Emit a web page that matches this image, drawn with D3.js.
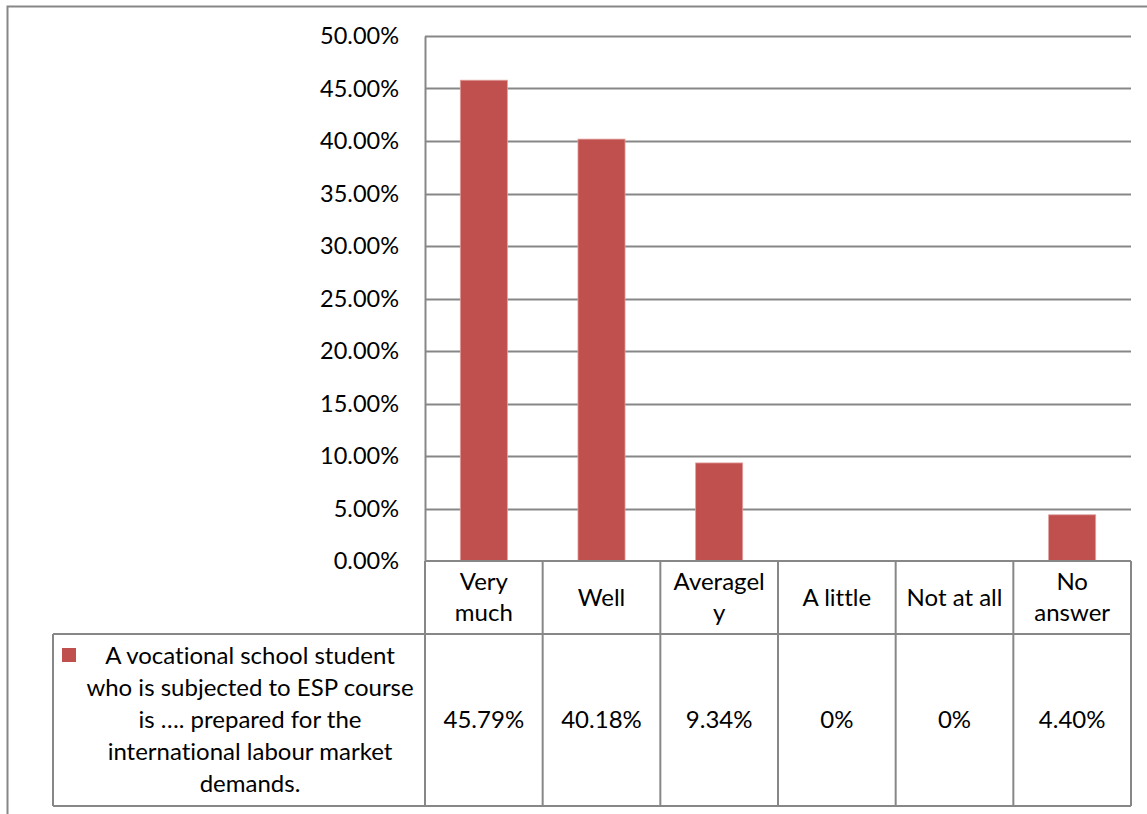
<!DOCTYPE html>
<html>
<head>
<meta charset="utf-8">
<script src="https://cdn.jsdelivr.net/npm/d3@7"></script>
<style>
  html, body { margin: 0; padding: 0; background: #fff; }
  svg { display: block; }
  text { font-family: Lato, "Open Sans", sans-serif; fill: #000; font-variant-ligatures: none; }
</style>
</head>
<body>
<svg id="chart" width="1147" height="814"></svg>
<script>
// Survey responses
const categories = ["Very much", "Well", "Averagely", "A little", "Not at all", "No answer"];
const headerLines = [["Very", "much"], ["Well"], ["Averagel", "y"], ["A little"], ["Not at all"], ["No", "answer"]];
const values = [0.4579, 0.4018, 0.0934, 0, 0, 0.0440];
const valueLabels = ["45.79%", "40.18%", "9.34%", "0%", "0%", "4.40%"];
const yTicks = [0, 0.05, 0.10, 0.15, 0.20, 0.25, 0.30, 0.35, 0.40, 0.45, 0.50];
const seriesName = [
  "A vocational school student",
  "who is subjected to ESP course",
  "is …. prepared for the",
  "international labour market",
  "demands."
];

const barColor = "#C0504D";
const lineColor = "#878787";
const fontSize = "24px";

const svg = d3.select("#chart");

const plot = { left: 425, right: 1131, top: 36, bottom: 561 };
const table = { legendLeft: 53, headerBottom: 634, bottom: 806 };

const x = d3.scaleBand().domain(categories).range([plot.left, plot.right]).padding(0);
const y = d3.scaleLinear().domain([0, 0.5]).range([plot.bottom, plot.top]);

// Outer chart frame (top and left edges)
svg.append("path")
  .attr("d", "M7.5,814 V6.5 H1147")
  .attr("fill", "none").attr("stroke", lineColor).attr("stroke-width", 2);

// Horizontal gridlines
svg.append("g").selectAll("line").data(yTicks.filter(d => d > 0)).join("line")
  .attr("x1", plot.left).attr("x2", plot.right)
  .attr("y1", d => Math.round(y(d)) + 0.5).attr("y2", d => Math.round(y(d)) + 0.5)
  .attr("stroke", lineColor).attr("stroke-width", 2);

// Value axis
const yAxis = svg.append("g")
  .attr("transform", `translate(${plot.left},0)`)
  .call(d3.axisLeft(y).tickValues(yTicks).tickFormat(d3.format(".2%")).tickSize(0).tickPadding(26));
yAxis.select(".domain").attr("stroke", lineColor).attr("stroke-width", 2);
yAxis.selectAll("text")
  .style("font-family", "Lato, 'Open Sans', sans-serif")
  .style("font-variant-ligatures", "none")
  .style("font-size", "23.5px").attr("fill", "#000");

// Bars
const bw = x.bandwidth();
svg.append("g").selectAll("rect").data(values).join("rect")
  .attr("x", (d, i) => x(categories[i]) + bw * 0.3)
  .attr("width", bw * 0.4)
  .attr("y", d => y(d))
  .attr("height", d => y(0) - y(d))
  .attr("fill", barColor)
  .attr("stroke", "#e0a09e").attr("stroke-width", 0.8);

// Data table grid
const grid = svg.append("g").attr("stroke", lineColor).attr("stroke-width", 2).attr("fill", "none");
const colEdges = categories.map(c => x(c)).concat([plot.right]);
colEdges.forEach(cx => {
  grid.append("line").attr("x1", cx).attr("x2", cx).attr("y1", plot.bottom).attr("y2", table.bottom);
});
grid.append("line").attr("x1", plot.left).attr("x2", plot.right).attr("y1", plot.bottom).attr("y2", plot.bottom);
grid.append("line").attr("x1", table.legendLeft).attr("x2", plot.right).attr("y1", table.headerBottom).attr("y2", table.headerBottom);
grid.append("line").attr("x1", table.legendLeft).attr("x2", plot.right).attr("y1", table.bottom).attr("y2", table.bottom);
grid.append("line").attr("x1", table.legendLeft).attr("x2", table.legendLeft).attr("y1", table.headerBottom).attr("y2", table.bottom);

// Category headers
const lh = 31;
const headerMid = (plot.bottom + table.headerBottom) / 2;
categories.forEach((c, i) => {
  const lines = headerLines[i];
  const cx = x(c) + bw / 2;
  lines.forEach((ln, j) => {
    svg.append("text")
      .attr("x", cx)
      .attr("y", headerMid + (j - (lines.length - 1) / 2) * lh)
      .attr("dy", "0.35em")
      .attr("text-anchor", "middle")
      .style("font-size", fontSize)
      .text(ln);
  });
});

// Value row
const rowMid = (table.headerBottom + table.bottom) / 2;
valueLabels.forEach((v, i) => {
  svg.append("text")
    .attr("x", x(categories[i]) + bw / 2)
    .attr("y", rowMid)
    .attr("dy", "0.35em")
    .attr("text-anchor", "middle")
    .style("font-size", fontSize)
    .text(v);
});

// Series legend cell
svg.append("rect")
  .attr("x", 62).attr("y", 648).attr("width", 14).attr("height", 14)
  .attr("fill", barColor);
const legendCx = 250;
seriesName.forEach((ln, j) => {
  svg.append("text")
    .attr("x", legendCx)
    .attr("y", rowMid + (j - (seriesName.length - 1) / 2) * 32)
    .attr("dy", "0.35em")
    .attr("text-anchor", "middle")
    .style("font-size", fontSize)
    .text(ln);
});
</script>
</body>
</html>
